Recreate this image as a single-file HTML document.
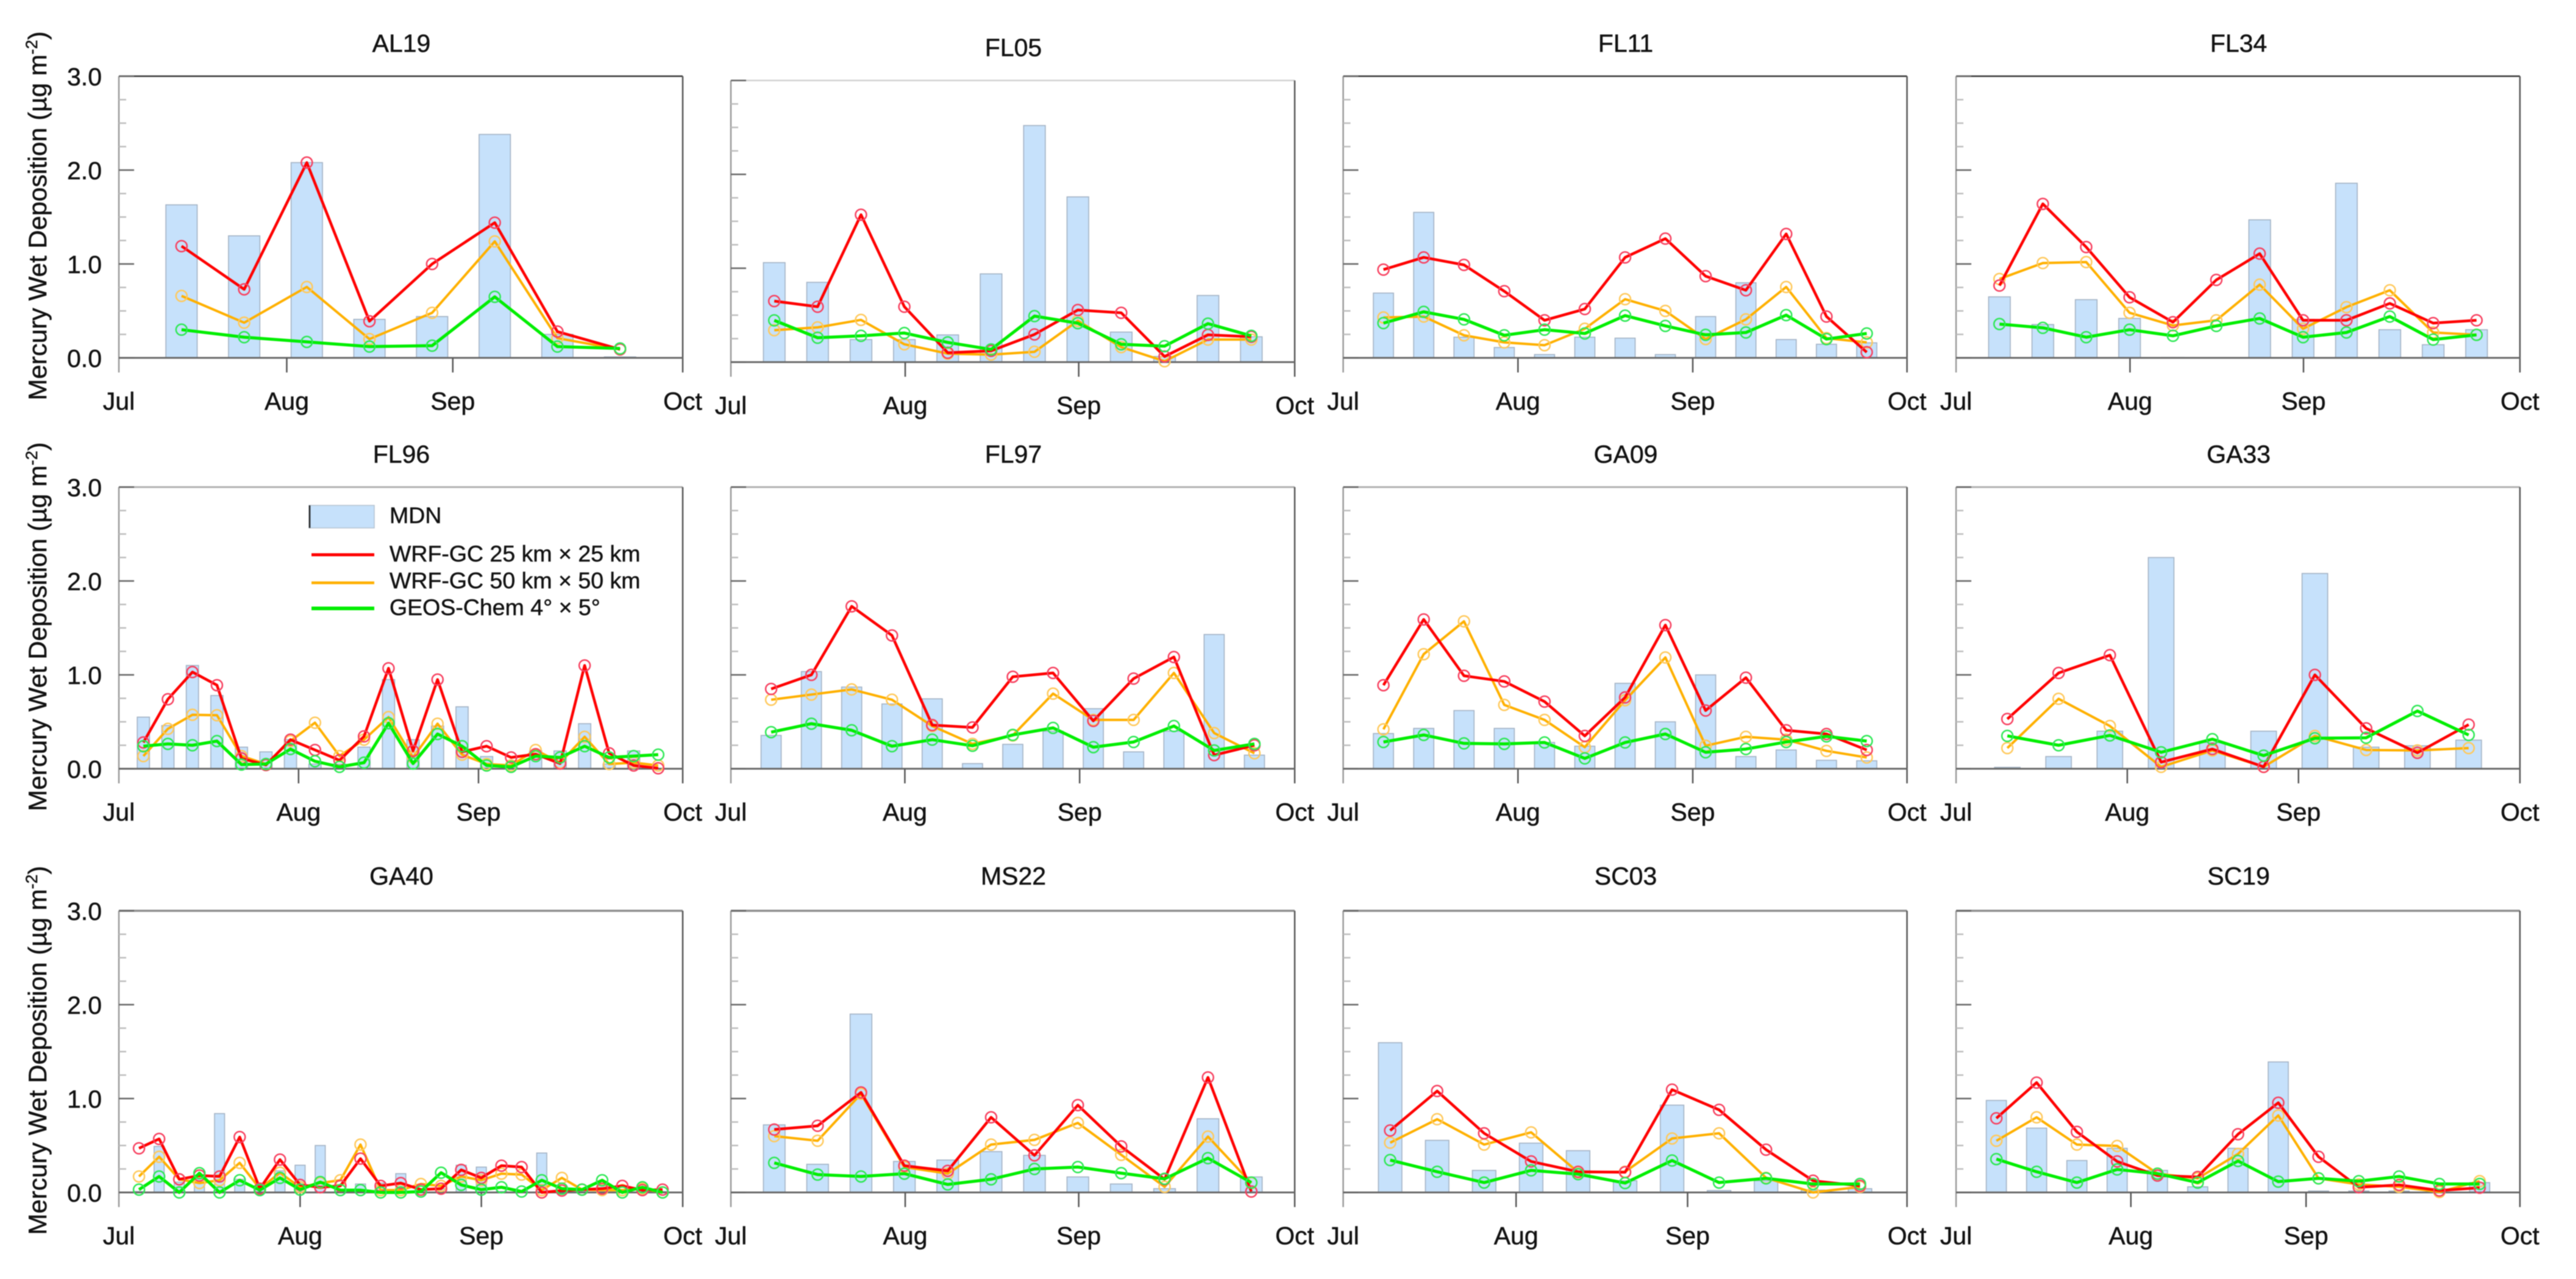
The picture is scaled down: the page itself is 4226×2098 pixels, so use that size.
<!DOCTYPE html>
<html lang="en">
<head>
<meta charset="utf-8">
<title>Mercury Wet Deposition</title>
<style>
html,body{margin:0;padding:0;background:#fff;}
svg{display:block;font-family:"Liberation Sans",sans-serif;fill:#111;filter:blur(0.8px);}
svg text{stroke:#111;stroke-width:0.5px;}
</style>
</head>
<body>
<svg id="chart" xmlns="http://www.w3.org/2000/svg" width="4226" height="2098" viewBox="0 0 4226 2098">
<rect x="0" y="0" width="4226" height="2098" fill="#ffffff"/>
<g id="panels"></g>
<g>
  <rect x="507" y="829" width="107" height="37" fill="#c6e1fb" stroke="#b4c2d0" stroke-width="1.5"/>
  <line x1="508" y1="829" x2="508" y2="866" stroke="#222" stroke-width="2.5"/>
  <text x="639" y="858" font-size="37.5">MDN</text>
  <line x1="511" y1="910" x2="614" y2="910" stroke="#ff0000" stroke-width="5"/>
  <text x="639" y="921" font-size="37.5">WRF-GC 25 km × 25 km</text>
  <line x1="511" y1="956" x2="614" y2="956" stroke="#ffb000" stroke-width="4.5"/>
  <text x="639" y="965" font-size="37.5">WRF-GC 50 km × 50 km</text>
  <line x1="511" y1="998" x2="614" y2="998" stroke="#00ee00" stroke-width="6"/>
  <text x="639" y="1009" font-size="37.5">GEOS-Chem 4° × 5°</text>
</g>
</svg>
<script>
const siteNames = ['AL19','FL05','FL11','FL34','FL96','FL97','GA09','GA33','GA40','MS22','SC03','SC19'];
const monthLabels = ['Jul','Aug','Sep','Oct'];
const yTickLabels = ['0.0','1.0','2.0','3.0'];
const yMax = 3;
const yMinorStep = 0.25;
/* Aug and Sep tick locations, in sample-index units of each panel */
const monthTickIndex = [[2.68,5.33],[4.02,8.02],[4.34,8.68],[4.01,8.01],[7.33,14.67],[4.32,8.66],[4.34,8.68],[3.34,6.68],[9,18],[4.02,8.02],[3.68,7.33],[4.34,8.69]];

const mdnValues = [
[1.63,1.30,2.08,0.41,0.44,2.38,0.25,0.01],
[1.06,0.85,0.24,0.24,0.29,0.94,2.52,1.76,0.32,0.06,0.71,0.27],
[0.69,1.55,0.22,0.11,0.035,0.22,0.21,0.035,0.44,0.80,0.195,0.145,0.16],
[0.65,0.355,0.62,0.42,0.005,0,1.47,0.41,1.86,0.30,0.14,0.30],
[0.55,0.46,1.10,0.78,0.23,0.18,0.31,0.05,0.05,0.23,0.95,0.31,0.455,0.66,0.13,0.02,0.19,0.19,0.48,0.05,0.19,0],
[0.355,1.035,0.87,0.69,0.745,0.055,0.26,0.40,0.64,0.18,0.40,1.43,0.145],
[0.375,0.43,0.62,0.43,0.28,0.24,0.91,0.50,1.0,0.13,0.20,0.09,0.085],
[0.015,0.13,0.40,2.25,0.28,0.40,2.08,0.23,0.245,0.305],
[0.01,0.49,0.11,0.18,0.84,0.14,0.03,0.23,0.29,0.50,0.01,0.09,0.10,0.20,0.01,0.04,0.29,0.27,0.01,0.01,0.42,0.02,0.01,0.08,0.01,0.01,0.01],
[0.72,0.30,1.90,0.33,0.345,0.435,0.395,0.165,0.09,0.04,0.785,0.165],
[1.595,0.555,0.235,0.525,0.445,0.125,0.93,0.02,0.125,0.025,0.04],
[0.98,0.685,0.34,0.47,0.235,0.06,0.47,1.39,0.015,0.015,0.015,0.005,0.105]
];
const wrf25Values = [
[1.19,0.73,2.08,0.39,1.0,1.44,0.28,0.09],
[0.65,0.59,1.57,0.59,0.10,0.12,0.295,0.555,0.525,0.06,0.29,0.27],
[0.94,1.07,0.99,0.71,0.40,0.52,1.07,1.27,0.87,0.72,1.32,0.44,0.06],
[0.77,1.64,1.18,0.645,0.38,0.83,1.11,0.40,0.40,0.58,0.37,0.40],
[0.28,0.74,1.03,0.89,0.11,0.04,0.31,0.20,0.09,0.345,1.07,0.19,0.95,0.18,0.24,0.12,0.155,0.055,1.10,0.165,0.035,0.005],
[0.85,1.0,1.73,1.42,0.465,0.44,0.98,1.02,0.51,0.96,1.19,0.145,0.25],
[0.89,1.59,0.99,0.93,0.715,0.35,0.76,1.53,0.62,0.97,0.41,0.37,0.20],
[0.53,1.02,1.21,0.07,0.21,0.02,1.0,0.43,0.17,0.47],
[0.47,0.57,0.14,0.18,0.17,0.59,0.04,0.35,0.08,0.055,0.07,0.36,0.07,0.10,0.03,0.04,0.24,0.155,0.285,0.27,0,0.02,0.03,0.04,0.07,0.025,0.03],
[0.67,0.71,1.065,0.285,0.23,0.80,0.395,0.93,0.49,0.14,1.225,0.01],
[0.66,1.08,0.63,0.33,0.22,0.215,1.095,0.88,0.455,0.125,0.07],
[0.79,1.17,0.645,0.33,0.18,0.165,0.62,0.955,0.38,0.055,0.08,0.02,0.05]
];
const wrf50Values = [
[0.66,0.375,0.755,0.20,0.48,1.24,0.21,0.09],
[0.34,0.37,0.45,0.19,0.09,0.08,0.11,0.44,0.16,0.01,0.24,0.24],
[0.43,0.44,0.24,0.165,0.135,0.31,0.625,0.50,0.20,0.41,0.755,0.21,0.165],
[0.84,1.01,1.02,0.48,0.345,0.40,0.78,0.31,0.54,0.72,0.27,0.245],
[0.135,0.425,0.575,0.57,0.135,0.05,0.295,0.49,0.135,0.31,0.55,0.12,0.48,0.15,0.05,0.035,0.20,0.065,0.34,0.05,0.065,0.035],
[0.735,0.79,0.845,0.735,0.455,0.265,0.355,0.80,0.52,0.52,1.02,0.38,0.165],
[0.42,1.22,1.57,0.68,0.52,0.23,0.73,1.185,0.245,0.34,0.31,0.19,0.12],
[0.22,0.745,0.455,0.02,0.195,0.02,0.35,0.20,0.195,0.22],
[0.17,0.38,0.14,0.10,0.13,0.315,0.04,0.21,0.055,0.10,0.13,0.51,0.025,0.025,0.09,0.07,0.17,0.13,0.20,0.19,0.025,0.155,0.03,0.025,0.025,0.04,0],
[0.60,0.55,1.05,0.27,0.20,0.51,0.56,0.74,0.40,0.06,0.595,0.10],
[0.53,0.78,0.51,0.64,0.215,0.22,0.575,0.63,0.155,0,0.06],
[0.55,0.80,0.51,0.495,0.20,0.15,0.41,0.82,0.15,0.085,0.06,0.005,0.12]
];
const geosValues = [
[0.30,0.22,0.17,0.12,0.13,0.65,0.12,0.10],
[0.445,0.26,0.28,0.31,0.21,0.135,0.49,0.415,0.19,0.17,0.41,0.28],
[0.37,0.49,0.41,0.24,0.30,0.26,0.45,0.34,0.245,0.27,0.455,0.20,0.26],
[0.36,0.32,0.22,0.30,0.235,0.34,0.42,0.22,0.27,0.44,0.195,0.245],
[0.24,0.265,0.25,0.295,0.045,0.05,0.21,0.08,0.02,0.065,0.485,0.055,0.37,0.24,0.035,0.02,0.135,0.12,0.24,0.12,0.135,0.15],
[0.39,0.48,0.41,0.24,0.31,0.245,0.36,0.435,0.23,0.285,0.455,0.195,0.265],
[0.285,0.36,0.27,0.265,0.28,0.11,0.28,0.37,0.175,0.21,0.285,0.345,0.295],
[0.35,0.25,0.355,0.175,0.315,0.14,0.325,0.33,0.615,0.36],
[0.03,0.17,0,0.205,0,0.13,0.025,0.155,0.03,0.11,0.025,0.025,0,0,0.01,0.21,0.08,0.03,0.055,0.01,0.13,0.04,0.03,0.13,0,0.055,0],
[0.315,0.19,0.17,0.20,0.085,0.14,0.25,0.27,0.205,0.145,0.365,0.105],
[0.345,0.22,0.105,0.235,0.195,0.10,0.34,0.105,0.15,0.09,0.09],
[0.355,0.22,0.105,0.245,0.20,0.105,0.335,0.115,0.15,0.12,0.17,0.09,0.09]
];

const SVGNS = 'http://www.w3.org/2000/svg';
const root = document.getElementById('panels');
const colLeft = [195, 1199, 2203.5, 3209];
const rowTop = [125, 799, 1494];
const rowTitleGap = [40, 40, 43];
const plotW = 925;
const plotH = 462;
const rowFrame = [['#333333',2.5],['#b0b0b0',3],['#8e8e8e',3.5]];

function node(parent, tag, attrs, text) {
  const el = document.createElementNS(SVGNS, tag);
  for (const k in attrs) el.setAttribute(k, attrs[k]);
  if (text !== undefined) el.textContent = text;
  parent.appendChild(el);
  return el;
}

function drawSeries(g, values, xScale, yScale, name, lineColor, lineWidth, markerColor) {
  const pts = values.map(function (v, i) { return xScale(i + 1).toFixed(1) + ',' + yScale(v).toFixed(1); }).join(' ');
  const line = node(g, 'polyline', {points: pts, fill: 'none', stroke: lineColor, 'stroke-width': lineWidth, 'stroke-linejoin': 'round'});
  
  
  values.forEach(function (v, i) {
    const c = node(g, 'circle', {cx: xScale(i + 1), cy: yScale(v), r: 9, fill: 'none', stroke: markerColor, 'stroke-width': 2.5});
    
    
  });
}

siteNames.forEach(function (site, p) {
  const col = p % 4;
  const row = Math.floor(p / 4);
  const left = colLeft[col];
  const top = rowTop[row] + (site === 'FL05' ? 7 : 0);
  const y0 = top + plotH;
  const nSamples = mdnValues[p].length;
  const xScale = function (i) { return left + i * plotW / (nSamples + 1); };
  const yScale = function (v) { return y0 - v * plotH / yMax; };

  const g = node(root, 'g', {});
  
  

  const title = node(g, 'text', {x: left + plotW / 2 + 1, y: top - rowTitleGap[row], 'font-size': 41, 'text-anchor': 'middle'}, site);
  
  

  mdnValues[p].forEach(function (v, i) {
    const bw = 0.5 * plotW / (nSamples + 1);
    const b = node(g, 'rect', {x: xScale(i + 1) - bw / 2, y: yScale(v), width: bw, height: y0 - yScale(v), fill: '#c6e1fb', stroke: '#a3b2c4', 'stroke-width': 1.6});
    
    
  });

  const frame = rowFrame[row];
  const topLine = node(g, 'line', {x1: left, y1: top, x2: left + plotW, y2: top, stroke: site === 'FL05' ? '#d2d2d2' : frame[0], 'stroke-width': frame[1]});
  
  
  const leftLine = node(g, 'line', {x1: left, y1: top, x2: left, y2: y0 + 24, stroke: '#999999', 'stroke-width': 2.5});
  
  
  const rightLine = node(g, 'line', {x1: left + plotW, y1: top, x2: left + plotW, y2: y0 + 24, stroke: '#555555', 'stroke-width': 2.5});
  
  
  const baseLine = node(g, 'line', {x1: left, y1: y0, x2: left + plotW, y2: y0, stroke: '#6a6a6a', 'stroke-width': 3});
  
  

  for (let v = 0; v <= yMax + 1e-9; v += yMinorStep) {
    const major = Math.abs(v - Math.round(v)) < 1e-9;
    const t = node(g, 'line', {x1: left, y1: yScale(v), x2: left + (major ? 25 : 12), y2: yScale(v), stroke: major ? '#666666' : '#bdbdbd', 'stroke-width': 2.5});
    
    
  }
  if (col === 0) {
    yTickLabels.forEach(function (lab) {
      const l = node(g, 'text', {x: 167, y: yScale(parseFloat(lab)) + 15, 'font-size': 41, 'text-anchor': 'end'}, lab);
      
      
    });
    const ty = node(g, 'text', {transform: 'translate(76,' + (top + plotH / 2 - 2) + ') rotate(-90)', 'font-size': 42, 'text-anchor': 'middle'});
    
    
    node(ty, 'tspan', {}, 'Mercury Wet Deposition (µg m');
    node(ty, 'tspan', {dy: -15, 'font-size': 27}, '-2');
    node(ty, 'tspan', {dy: 15}, ')');
  }

  const tickIdx = [0].concat(monthTickIndex[p]).concat([nSamples + 1]);
  monthLabels.forEach(function (lab, m) {
    const x = xScale(tickIdx[m]);
    if (m === 1 || m === 2) {
      const t = node(g, 'line', {x1: x, y1: y0, x2: x, y2: y0 + 24, stroke: '#555555', 'stroke-width': 2.5});
      
      
    }
    const l = node(g, 'text', {x: x, y: y0 + 85, 'font-size': 41, 'text-anchor': 'middle'}, lab);
    
    
  });

  drawSeries(g, wrf50Values[p], xScale, yScale, 'wrf-50', '#ffb000', 4, '#ffc95c');
  drawSeries(g, wrf25Values[p], xScale, yScale, 'wrf-25', '#ff0000', 4.5, '#f7405f');
  drawSeries(g, geosValues[p], xScale, yScale, 'geos-chem', '#00ee00', 5, '#2ee855');
});
</script>
</body>
</html>
